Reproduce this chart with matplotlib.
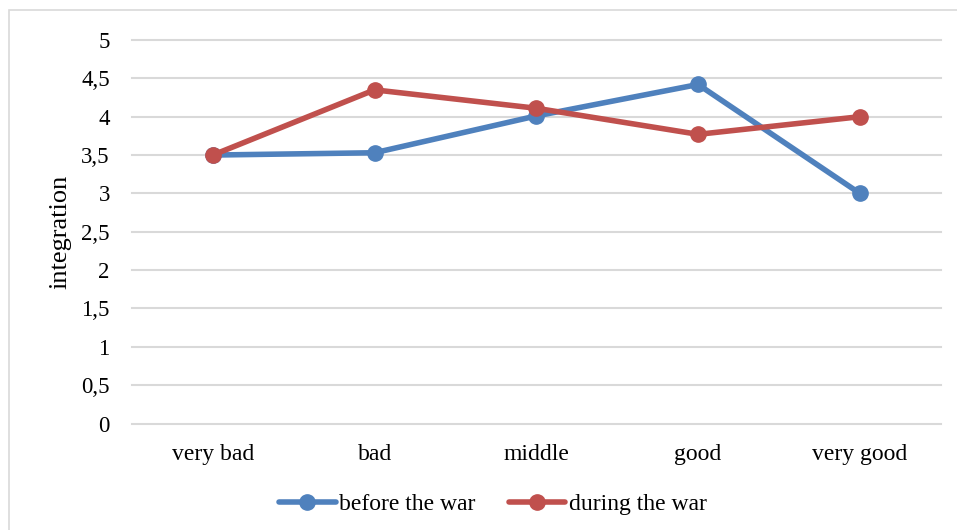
import matplotlib
matplotlib.use('Agg')
import matplotlib.pyplot as plt
import matplotlib.patches as mpatches
from matplotlib.ticker import FuncFormatter

# ── data ─────────────────────────────────────────────
categories = ['very bad', 'bad', 'middle', 'good', 'very good']
before_war = [3.5, 3.53, 4.01, 4.42, 3.0]
during_war = [3.5, 4.35, 4.11, 3.77, 4.0]
y_ticks = [0, 0.5, 1, 1.5, 2, 2.5, 3, 3.5, 4, 4.5, 5]

BLUE = '#4F81BD'
RED = '#C0504D'
GRID = '#D9D9D9'

plt.rcParams['font.family'] = ['Liberation Serif', 'DejaVu Serif']

fig = plt.figure(figsize=(9.57, 5.3), dpi=100, facecolor='white')

# chart frame (runs off the right / bottom edge)
fig.patches.append(mpatches.Rectangle((9 / 957, -0.1), 1.2, 1 - 10 / 530 + 0.1,
                                      transform=fig.transFigure, fill=False,
                                      edgecolor=GRID, linewidth=1.2))

ax = fig.add_axes([132 / 957, 1 - 423.5 / 530, (940.7 - 132) / 957, (423.5 - 40) / 530])
x = list(range(len(categories)))
ax.plot(x, before_war, color=BLUE, lw=4, marker='o', ms=11, label='before the war',
        solid_capstyle='round', zorder=3, clip_on=False)
ax.plot(x, during_war, color=RED, lw=4, marker='o', ms=11, label='during the war',
        solid_capstyle='round', zorder=4, clip_on=False)

ax.set_xlim(-0.5, len(categories) - 0.5)
ax.set_ylim(0, 5)
ax.set_yticks(y_ticks)
ax.yaxis.set_major_formatter(FuncFormatter(lambda v, p: f'{v:g}'.replace('.', ',')))
ax.set_xticks(x)
ax.set_xticklabels(categories)
ax.tick_params(axis='both', length=0, colors='#000000')
ax.tick_params(axis='y', pad=16, labelsize=16.5)
ax.tick_params(axis='x', pad=15, labelsize=17)

ax.grid(axis='y', color=GRID, lw=1.5)
for gl in ax.get_ygridlines():
    gl.set_clip_on(False)
ax.set_axisbelow(True)
for s in ax.spines.values():
    s.set_visible(False)

ax.set_ylabel('integration', fontsize=19, va='center', ha='center')
ax.yaxis.set_label_coords((60 - 132) / 808.7, (423.5 - 232) / 383.5)

fig.legend(loc='center', bbox_to_anchor=(0.515, 1 - 504 / 530), ncol=2, frameon=False,
           fontsize=17, handlelength=2.4, handletextpad=0.15, columnspacing=1.4,
           borderaxespad=0)

fig.savefig('out.png', dpi=100, facecolor='white')
